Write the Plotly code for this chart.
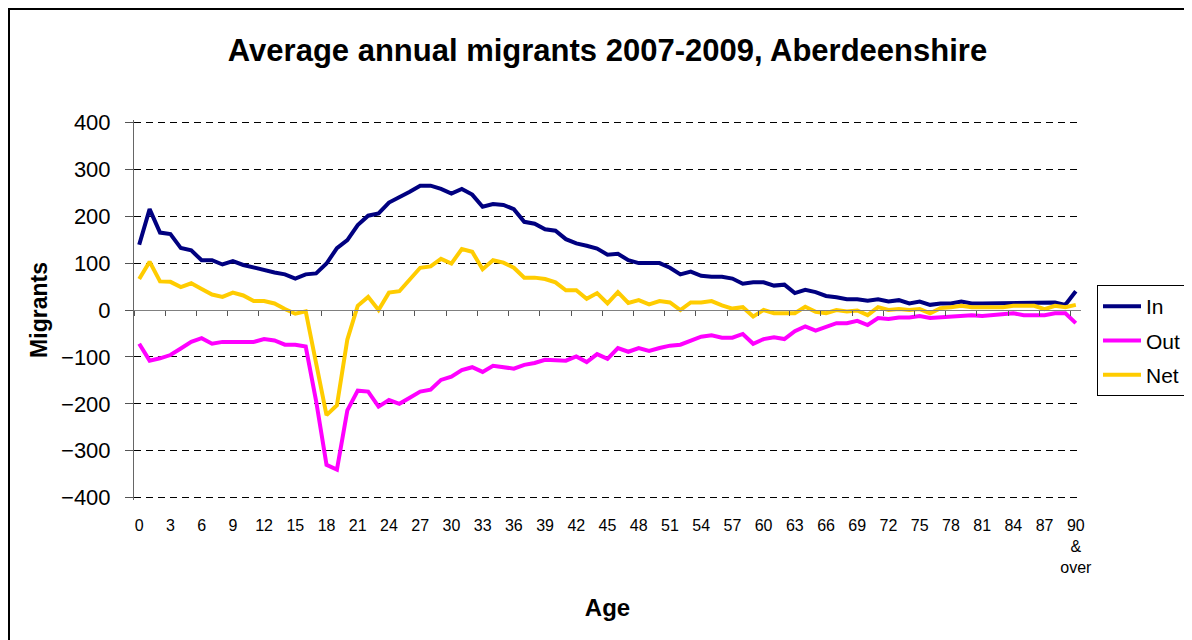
import plotly.graph_objects as go

ages = list(range(91))

in_vals = [139, 215, 165, 162, 132, 127, 106, 106, 97, 104, 96, 90, 85, 80, 76, 67, 76, 78, 99, 132,
           149, 181, 201, 206, 229, 240, 252, 265, 265, 258, 248, 258, 246, 220, 226, 224, 215, 188, 184, 172,
           169, 151, 142, 137, 131, 118, 120, 106, 100, 100, 100, 90, 76, 82, 73, 71, 71, 67, 56, 59,
           59, 52, 54, 36, 43, 38, 30, 27, 23, 23, 20, 23, 18, 21, 14, 18, 11, 14, 14, 18,
           14, 14, 14, 14, 16, 16, 16, 14, 16, 11, 40]

out_vals = [-72, -108, -103, -96, -82, -68, -60, -72, -68, -68, -68, -68, -62, -65, -74, -74, -78, -194, -330, -340,
            -214, -172, -174, -206, -192, -200, -187, -174, -170, -149, -142, -128, -122, -132, -119, -122, -125, -117, -113, -106,
            -106, -108, -99, -111, -94, -104, -81, -89, -81, -87, -81, -76, -74, -65, -57, -54, -59, -59, -51, -72,
            -62, -58, -62, -45, -35, -44, -35, -28, -28, -23, -32, -17, -19, -16, -16, -13, -17, -16, -13, -13,
            -11, -13, -11, -11, -7, -11, -11, -11, -7, -7, -28]

net_vals = [66, 103, 61, 60, 49, 57, 45, 33, 28, 37, 31, 19, 19, 14, 2, -8, -3, -111, -224, -203,
            -63, 9, 28, 0, 37, 40, 65, 90, 93, 109, 99, 130, 124, 87, 106, 101, 90, 69, 69, 66,
            59, 42, 42, 24, 36, 14, 38, 15, 21, 12, 19, 16, 0, 16, 16, 19, 10, 3, 6, -14,
            0, -7, -7, -7, 7, -4, -7, 0, -3, -1, -11, 6, 0, 2, 0, 2, -7, 4, 6, 9,
            6, 6, 6, 6, 9, 9, 9, 2, 9, 6, 11]

x_tick_vals = list(range(0, 91, 3))
x_tick_text = [str(v) for v in range(0, 90, 3)] + ["90<br>&<br>over"]
y_tick_vals = [-400, -300, -200, -100, 0, 100, 200, 300, 400]
boundary_ticks = [v - 0.5 for v in range(0, 91, 3)]

series = [("In", in_vals, "#000080"), ("Out", out_vals, "#FF00FF"), ("Net", net_vals, "#FFCC00")]

FONT = "Liberation Sans, Arial, sans-serif"

# page has an 8px body margin: figure origin sits at page (8, 8)
OFF = 8
PL, PR, PT, PB = 134, 1081, 120, 500   # plot area in page pixels (y range padded to +/-405)
W, H = 1192, 640
PW, PH = PR - PL, PB - PT

fig = go.Figure()
for name, vals, col in series:
    fig.add_trace(go.Scatter(x=ages, y=vals, name=name, mode="lines",
                             line=dict(color=col, width=4), legendgroup=name))

# helper trace so the zero-line category axis (with boundary tick marks) is drawn
fig.add_trace(go.Scatter(x=ages, y=net_vals, xaxis="x2", mode="lines", line=dict(width=0),
                         opacity=0, showlegend=False, hoverinfo="skip"))

fig.update_layout(
    width=W, height=H,
    margin=dict(l=PL - OFF, r=W - (PR - OFF), t=PT - OFF, b=H - (PB - OFF), autoexpand=False),
    paper_bgcolor="white", plot_bgcolor="white",
    font=dict(family=FONT, color="black"),
    title=dict(text="<b>Average annual migrants 2007-2009, Aberdeenshire</b>",
               x=0.5, xref="paper", y=1 - (50 - OFF) / H, yanchor="middle",
               font=dict(size=31, family=FONT)),
    xaxis=dict(range=[-0.5, 90.5], tickvals=x_tick_vals, ticktext=x_tick_text,
               showgrid=False, zeroline=False, showline=False, ticks="",
               tickfont=dict(size=16), ticklabelstandoff=14,
               title=dict(text="<b>Age</b>", font=dict(size=24), standoff=24)),
    xaxis2=dict(range=[-0.5, 90.5], overlaying="x", anchor="free", position=0.5,
                side="bottom", showgrid=False, zeroline=False, showline=True,
                linecolor="#808080", linewidth=1, ticks="outside", ticklen=5,
                tickcolor="#555555", tickvals=boundary_ticks, showticklabels=False),
    yaxis=dict(range=[-405, 405], tickvals=y_tick_vals, showgrid=True,
               gridcolor="black", gridwidth=1, griddash="7px,5px",
               zeroline=False, showline=True, linecolor="#666666", linewidth=1,
               ticks="outside", ticklen=8, tickcolor="#555555",
               tickfont=dict(size=22), ticklabelstandoff=10,
               title=dict(text="<b>Migrants</b>", font=dict(size=23), standoff=6)),
    legend=dict(x=(1097 - PL) / PW, xanchor="left", y=(PB - 285) / PH, yanchor="top",
                bordercolor="black", borderwidth=1, bgcolor="white",
                font=dict(size=21, family=FONT), tracegroupgap=4,
                itemwidth=38),
    showlegend=True,
    shapes=[dict(type="rect", xref="paper", yref="paper",
                 x0=(9 - PL) / PW, x1=(1210 - PL) / PW,
                 y0=(PB - 670) / PH, y1=(PB - 9) / PH,
                 line=dict(color="black", width=2), layer="below")],
)

fig.write_html("out.html")
